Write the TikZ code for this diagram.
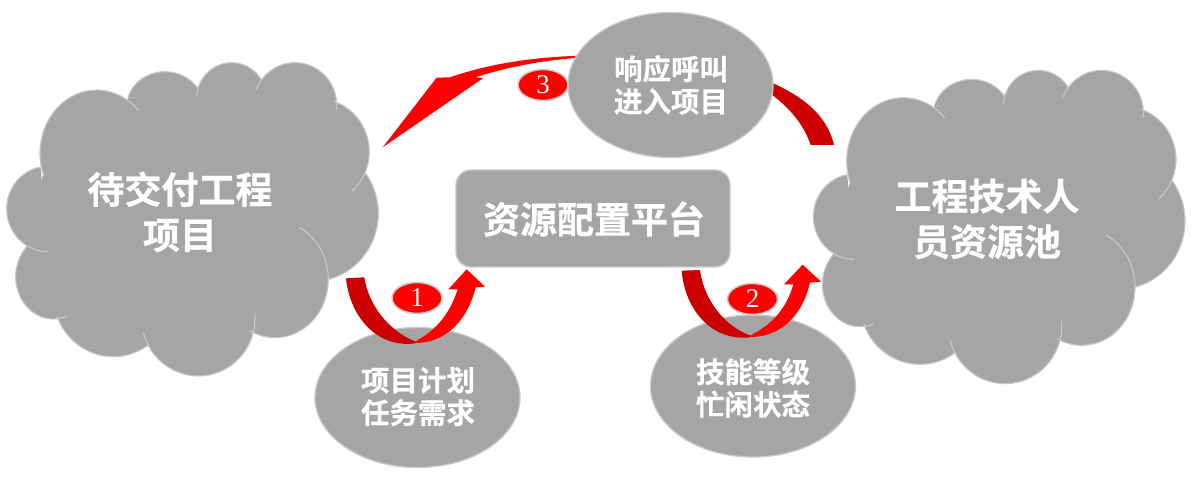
\documentclass[tikz,border=0pt]{standalone}
\usepackage{fontspec}
\newfontfamily\cjk{Noto Sans CJK SC}[BoldFont={Noto Sans CJK SC Bold},BoldFeatures={FakeBold=0.5}]
\newfontfamily\numfont{Liberation Serif}
\newcommand\lobeArc[7]{\path[#7] (#1,#2) ++(#5:#3 and #4) arc[start angle=#5,end angle=#6,x radius=#3,y radius=#4];}
\newcommand\cloudlobes[1]{%
 \lobeArc{290}{310}{170}{190}{160}{317}{#1}
 \lobeArc{495}{170}{115}{105}{194}{328}{#1}
 \lobeArc{695}{145}{105}{107}{184}{330}{#1}
 \lobeArc{885}{165}{125}{127}{201}{367}{#1}
 \lobeArc{950}{305}{158}{160}{290}{408}{#1}
 \lobeArc{935}{490}{200}{205}{-36}{76}{#1}
 \lobeArc{825}{688}{160}{175}{-63}{118}{#1}
 \lobeArc{595}{805}{170}{173}{-5}{166}{#1}
 \lobeArc{340}{735}{180}{185}{54}{160}{#1}
 \lobeArc{160}{680}{113}{127}{69}{224}{#1}
 \lobeArc{143}{477}{123}{128}{90}{260}{#1}
}
\newcommand\cloudshape{%
 \fill[cloudfill] (128,378)--(385,145)--(598,108)--(790,90)--(1005,155)--(1098,370)--(985,690)--(760,835)--(445,885)--(170,800)--(78,590)--cycle;
 \cloudlobes{cloudfill}
 \cloudlobes{cloudline}
}
\tikzset{
 cloudfill/.style={fill=cgray},
 cloudline/.style={draw=cedge,line width=1.1pt},
 blob/.style={ellipse,draw=cedge,line width=1.3pt,fill=cgray,minimum width=#1,inner sep=0pt},
 badge/.style={ellipse,draw=cedge,line width=1.5pt,fill=cred,minimum width=50pt,minimum height=31pt,inner sep=0pt,text=white,font=\numfont\fontsize{27}{27}\selectfont},
 bigtxt/.style={text=white,align=center,font=\cjk\bfseries\fontsize{37}{45.5}\selectfont},
 midtxt/.style={text=white,align=center,font=\cjk\bfseries\fontsize{28.5}{32.5}\selectfont},
}
\definecolor{cgray}{HTML}{A5A5A5}
\definecolor{cedge}{HTML}{C9C9C9}
\definecolor{cred}{HTML}{FF0000}
\definecolor{cdark}{HTML}{CC0000}
\usetikzlibrary{shapes.geometric}
\begin{document}
\begin{tikzpicture}[x=1pt,y=-1pt]
\useasboundingbox (0,0) rectangle (1199,478);
\fill[white] (0,0) rectangle (1199,478);
% clouds
\begin{scope}[shift={(0,50)},scale=1/3]\cloudshape\end{scope}
\begin{scope}[shift={(806.7,57.7)},scale=1/3]\cloudshape\end{scope}
% arrow 3 (behind the top ellipse)
\begin{scope}[shift={(760,60)},scale=1/3]
 \fill[cdark] (30,66) .. controls (120,105) and (200,160) .. (222,255) -- (152,255) .. controls (130,190) and (85,140) .. (30,100) -- cycle;
\end{scope}
\begin{scope}[shift={(370,40)},scale=1/3]
 \fill[cred] (640,47) .. controls (500,50) and (360,70) .. (240,112) -- (200,113) -- (38,322) -- (340,114) -- (316,112) .. controls (400,85) and (500,62) .. (640,52) -- cycle;
\end{scope}
% ellipses
\node[blob=205pt,minimum height=140pt] (ask) at (417.5,397.5) {};
\node[blob=205pt,minimum height=142pt] (skill) at (753,386) {};
\node[blob=205pt,minimum height=145pt] (call) at (670.5,85) {};
\node[draw=cedge,line width=1.3pt,fill=cgray,rounded corners=15pt,minimum width=274pt,minimum height=97pt,inner sep=0pt] (hub) at (593,218.5) {};
% arrow 1
\begin{scope}[shift={(330,250)},scale=1/3]
 \fill[cdark] (48,85) -- (103,82) .. controls (115,160) and (170,240) .. (257,275) -- (257,280) .. controls (140,295) and (60,200) .. (48,85) -- cycle;
 \fill[cred] (255,279) .. controls (340,280) and (410,220) .. (437,112) -- (465,110) -- (410,58) -- (355,118) -- (383,118) .. controls (360,190) and (320,240) .. (255,275) -- cycle;
\end{scope}
% arrow 2
\begin{scope}[shift={(660,250)},scale=1/3]
 \fill[cdark] (65,62) -- (120,60) .. controls (130,140) and (185,225) .. (272,257) -- (272,262) .. controls (155,275) and (75,180) .. (65,62) -- cycle;
 \fill[cred] (270,261) .. controls (355,262) and (425,205) .. (450,98) -- (483,95) -- (428,44) -- (372,103) -- (400,103) .. controls (380,175) and (335,225) .. (270,257) -- cycle;
\end{scope}
% texts
\node[bigtxt] (proj) at (180,212) {待交付工程\\项目};
\node[bigtxt] (pool) at (987,219) {工程技术人\\员资源池};
\node[bigtxt] (hubt) at (594,219) {资源配置平台};
\node[midtxt] (callt) at (671,85) {响应呼叫\\进入项目};
\node[midtxt] (askt) at (418,396.5) {项目计划\\任务需求};
\node[midtxt] (skillt) at (753,388) {技能等级\\忙闲状态};
% badges
\node[badge] (b1) at (417,298) {1};
\node[badge] (b2) at (752.5,299) {2};
\node[badge] (b3) at (543,85) {3};
\end{tikzpicture}
\end{document}
